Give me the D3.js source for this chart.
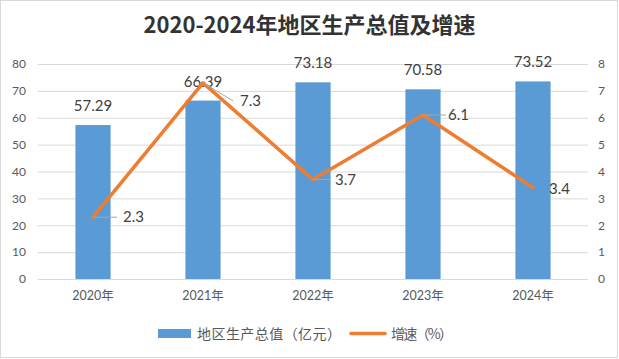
<!DOCTYPE html>
<html lang="zh-CN"><head><meta charset="utf-8">
<script src="https://cdn.jsdelivr.net/npm/d3@7"></script>
<style>body{margin:0;background:#fff}svg{display:block}</style>
</head><body>
<script>
const categories = ["2020年","2021年","2022年","2023年","2024年"];
const gdpValues = [57.29, 66.39, 73.18, 70.58, 73.52];
const growthValues = [2.3, 7.3, 3.7, 6.1, 3.4];
const leftTicks = [0,10,20,30,40,50,60,70,80];
const rightTicks = [0,1,2,3,4,5,6,7,8];
const title = "2020-2024年地区生产总值及增速";
const legendLabels = ["地区生产总值（亿元）","增速（%）"];

const W=619,H=359;
const svg=d3.select("body").append("svg").attr("width",W).attr("height",H);
const numFont="Lato, 'Noto Sans CJK SC', sans-serif";
const cjkFont="'Noto Sans CJK SC', sans-serif";
svg.append("rect").attr("x",0.5).attr("y",0.5).attr("width",W-2).attr("height",H-2)
  .attr("fill","#fff").attr("stroke","#d9d9d9");

const x=d3.scaleBand().domain(categories).range([38,588]).paddingInner(0.68).paddingOuter(0.34);
const yL=d3.scaleLinear().domain([0,80]).range([279,64]);
const yR=d3.scaleLinear().domain([0,8]).range([279,64]);

// grid
svg.append("g").selectAll("line").data(leftTicks).join("line")
  .attr("x1",38).attr("x2",588).attr("y1",d=>yL(d)+0.5).attr("y2",d=>yL(d)+0.5)
  .attr("stroke","#d9d9d9").attr("stroke-width",1);

// left axis
const la=svg.append("g").attr("transform","translate(38,0)")
  .call(d3.axisLeft(yL).tickValues(leftTicks).tickSize(0).tickPadding(12));
la.select(".domain").remove();
la.selectAll("text").attr("fill","#595959").style("font-family",numFont).style("font-size","12px");
// right axis
const ra=svg.append("g").attr("transform","translate(588,0)")
  .call(d3.axisRight(yR).tickValues(rightTicks).tickSize(0).tickPadding(10));
ra.select(".domain").remove();
ra.selectAll("text").attr("fill","#595959").style("font-family",numFont).style("font-size","12px");

// bars
svg.append("g").selectAll("rect").data(gdpValues).join("rect")
  .attr("x",(d,i)=>x(categories[i])).attr("width",x.bandwidth())
  .attr("y",d=>yL(d)).attr("height",d=>yL(0)-yL(d)).attr("fill","#5b9bd5");

// x axis line
svg.append("line").attr("x1",38).attr("x2",588).attr("y1",279.5).attr("y2",279.5).attr("stroke","#d9d9d9");
// x labels
const xa=svg.append("g").attr("transform","translate(0,279)")
  .call(d3.axisBottom(x).tickSize(0).tickPadding(12));
xa.select(".domain").remove();
xa.selectAll("text").attr("fill","#595959").style("font-family",numFont).style("font-size","12.5px");

// bar labels
svg.append("g").selectAll("text").data(gdpValues).join("text")
  .attr("x",(d,i)=>x(categories[i])+x.bandwidth()/2).attr("y",d=>yL(d)-14)
  .attr("text-anchor","middle").attr("fill","#404040")
  .style("font-family",numFont).style("font-size","15px").text(d=>d.toFixed(2));

// line
const cx=i=>x(categories[i])+x.bandwidth()/2;
const line=d3.line().x((d,i)=>cx(i)).y(d=>yR(d));
svg.append("path").datum(growthValues).attr("d",line).attr("fill","none")
  .attr("stroke","#ed7d31").attr("stroke-width",3.5).attr("stroke-linejoin","round").attr("stroke-linecap","round");

// line labels with leader lines
const labelOff=[{dx:30,dy:0,lx:24},{dx:37,dy:18,lx:30},{dx:22,dy:0,lx:17},{dx:25,dy:0,lx:23},{dx:16,dy:1,lx:0}];
const lg=svg.append("g");
growthValues.forEach((v,i)=>{
  const px=cx(i),py=yR(v),o=labelOff[i];
  if(o.lx>0){
    lg.append("line").attr("x1",px).attr("y1",py).attr("x2",px+o.lx).attr("y2",py+o.dy)
      .attr("stroke","#a6a6a6").attr("stroke-width",1);
  }
  lg.append("text").attr("x",px+o.dx).attr("y",py+o.dy+5).attr("fill","#404040")
    .style("font-family",numFont).style("font-size","15px").text(v);
});

// title
svg.append("text").attr("x",W/2).attr("y",33).attr("text-anchor","middle")
  .attr("fill","#333").style("font-family",cjkFont).style("font-weight","bold").style("font-size","22px").text(title);

// legend
svg.append("rect").attr("x",158).attr("y",329).attr("width",33).attr("height",9).attr("fill","#5b9bd5");
svg.append("text").attr("x",197).attr("y",338.5).attr("fill","#595959")
  .attr("textLength",144).attr("lengthAdjust","spacing")
  .style("font-family",cjkFont).style("font-size","14px").text(legendLabels[0]);
svg.append("line").attr("x1",351).attr("x2",385).attr("y1",333.5).attr("y2",333.5)
  .attr("stroke","#ed7d31").attr("stroke-width",3.5).attr("stroke-linecap","round");
svg.append("text").attr("x",391).attr("y",338.5).attr("fill","#595959")
  .attr("textLength",62).attr("lengthAdjust","spacing")
  .style("font-family",cjkFont).style("font-size","14px").text(legendLabels[1]);
</script>
</body></html>
